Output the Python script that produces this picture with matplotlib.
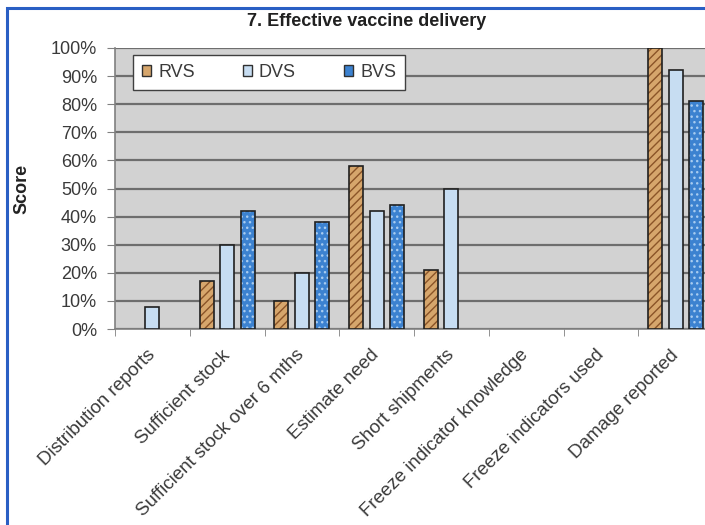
import numpy as np
import matplotlib.pyplot as plt
from matplotlib.patches import Rectangle, Patch

# dados
categorias = ['Distribution reports', 'Sufficient stock', 'Sufficient stock over 6 mths',
              'Estimate need', 'Short shipments', 'Freeze indicator knowledge',
              'Freeze indicators used', 'Damage reported']
series = ['RVS', 'DVS', 'BVS']
rvs = [0, 17, 10, 58, 21, 0, 0, 100]
dvs = [8, 30, 20, 42, 50, 0, 0, 92]
bvs = [0, 42, 38, 44, 0, 0, 0, 81]

plt.rcParams['font.family'] = ['Liberation Sans', 'DejaVu Sans']

W, H = 705, 525
fig = plt.figure(figsize=(W / 100, H / 100), dpi=100)
fig.patch.set_facecolor('white')

# area do grafico (ultrapassa a borda direita, como no original)
x0, x1, y0, y1 = 115, 713, 48, 329
ax = fig.add_axes([x0 / W, 1 - y1 / H, (x1 - x0) / W, (y1 - y0) / H])
ax.set_facecolor('#D2D2D2')

x = np.arange(len(categorias))
largura = 0.19
desloc = 0.274

estilos = [
    # face, cor do hachurado, hachura
    ('#D6A66C', '#8A5428', '////'),
    ('#C7DDF2', '#C7DDF2', None),
    ('#3C82D0', '#A8CCF0', '...'),
]

for i, (vals, (face, hcor, hatch)) in enumerate(zip([rvs, dvs, bvs], estilos)):
    vals = np.array(vals, dtype=float)
    idx = vals > 0
    pos = x[idx] + (i - 1) * desloc
    ax.bar(pos, vals[idx], largura, color=face, hatch=hatch, edgecolor=hcor,
           linewidth=0, zorder=3)
    ax.bar(pos, vals[idx], largura, fill=False, edgecolor='#202020',
           linewidth=1.2, zorder=4)

ax.set_xlim(-0.5, len(categorias) - 0.5)
ax.set_ylim(0, 100)
ax.set_yticks(np.arange(0, 101, 10))
ax.set_yticklabels([f'{v}%' for v in range(0, 101, 10)])
ax.yaxis.grid(True, color='#6E6E6E', linewidth=1.6, zorder=1)
ax.set_axisbelow(True)

ax.set_xticks(x)
ax.set_xticklabels(categorias, rotation=45, ha='right', va='center',
                   rotation_mode='anchor')
ax.set_xticks(np.arange(len(categorias) + 1) - 0.5, minor=True)
ax.tick_params(axis='x', which='major', length=0, pad=17, labelsize=13.5,
               labelcolor='#3A3A3A')
ax.tick_params(axis='x', which='minor', length=5, color='#808080')
ax.tick_params(axis='y', length=6, pad=7, labelsize=13, labelcolor='#3A3A3A',
               color='#808080')

for lado in ['top', 'right']:
    ax.spines[lado].set_visible(False)
for lado in ['left', 'bottom']:
    ax.spines[lado].set_color('#808080')
    ax.spines[lado].set_linewidth(1.2)

ax.set_ylabel('Score', fontsize=13, fontweight='bold', color='#222222')
ax.yaxis.set_label_coords(-(x0 - 30) / (x1 - x0), 0.5)

# legenda com quadradinhos
handles = [Patch(facecolor=e[0], edgecolor='#303030', linewidth=1.0) for e in estilos]
leg = ax.legend(handles, series, loc='upper left', ncol=3,
                bbox_to_anchor=(0.03, 0.975, 0.455, 0.0), mode='expand',
                borderaxespad=0, fontsize=13, handlelength=0.5,
                handleheight=0.5, handletextpad=0.4, columnspacing=1.5,
                borderpad=0.5, fancybox=False, framealpha=1,
                edgecolor='#404040')
leg.get_frame().set_linewidth(1.0)
for t in leg.get_texts():
    t.set_color('#3A3A3A')

fig.text(367 / W, 1 - 22 / H, '7. Effective vaccine delivery', ha='center',
         va='center', fontsize=13, fontweight='bold', color='#202020')

# moldura azul do quadro
fig.patches.append(Rectangle((7 / W, -0.1), 1.2, 1 - 8 / H + 0.1,
                             transform=fig.transFigure, fill=False,
                             edgecolor='#2A5FC4', linewidth=2.2))

fig.savefig('out.png', dpi=100)
